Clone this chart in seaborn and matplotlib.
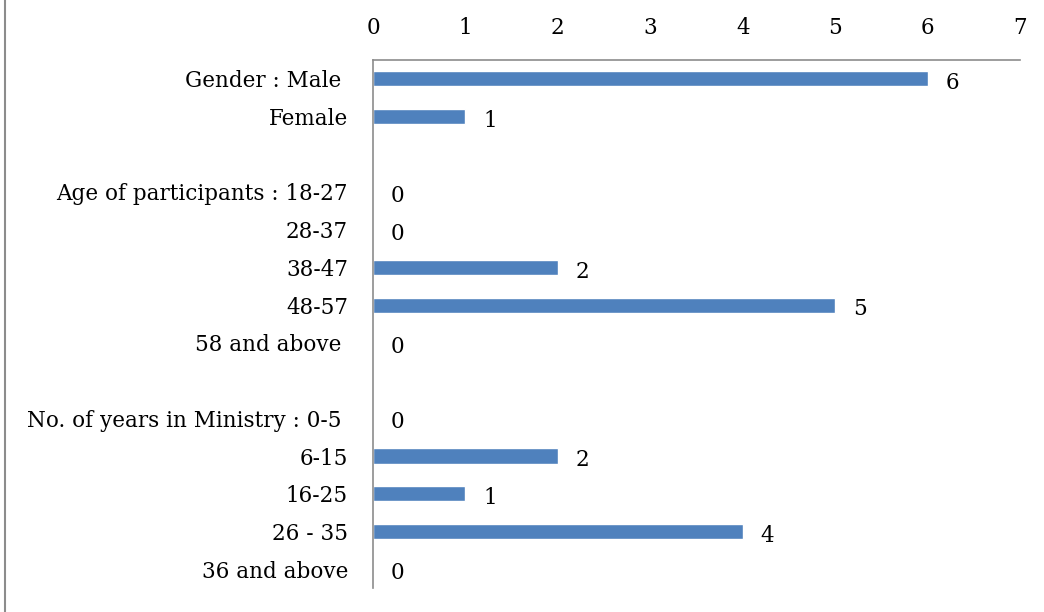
import seaborn as sns
import matplotlib.pyplot as plt
import numpy as np
import pandas as pd

# Categories (top to bottom); blank strings are spacer rows
categories = [
    "Gender : Male ", "Female", "",
    "Age of participants : 18-27", "28-37", "38-47", "48-57", "58 and above ", " ",
    "No. of years in Ministry : 0-5 ", "6-15", "16-25", "26 - 35", "36 and above",
]
counts = [6, 1, np.nan, 0, 0, 2, 5, 0, np.nan, 0, 2, 1, 4, 0]
x_ticks = [0, 1, 2, 3, 4, 5, 6, 7]

df = pd.DataFrame({"Category": categories, "Count": counts})

sns.set_style("white")
plt.rcParams["font.family"] = ["DejaVu Serif"]
plt.rcParams["text.color"] = "black"
plt.rcParams["xtick.color"] = "black"
plt.rcParams["ytick.color"] = "black"

fig = plt.figure(figsize=(10.44, 6.12), dpi=100)
ax = fig.add_axes([0.3573, 0.0392, 0.977 - 0.3573, 0.902 - 0.0392])

sns.barplot(data=df, x="Count", y="Category", orient="h", color="#4f81bd",
            saturation=1, width=0.4, ax=ax, order=categories)

ax.set_xlim(0, 7)
ax.set_ylim(len(categories) - 0.5, -0.5)
ax.set_xticks(x_ticks)
ax.xaxis.tick_top()
ax.tick_params(axis="x", length=0, pad=15, labelsize=15.5)
ax.tick_params(axis="y", length=0, pad=18, labelsize=15.5)
ax.set_xlabel("")
ax.set_ylabel("")

for side in ["right", "bottom"]:
    ax.spines[side].set_visible(False)
for side in ["top", "left"]:
    ax.spines[side].set_color("#8c8c8c")
    ax.spines[side].set_linewidth(1.2)

# Value labels
for i, v in enumerate(counts):
    if np.isnan(v):
        continue
    ax.annotate(f"{int(v)}", xy=(v, i), xytext=(13, -3), textcoords="offset points",
                va="center", ha="left", fontsize=15.5)

# Outer frame line on the left edge
fig.add_artist(plt.Line2D([0.0045, 0.0045], [0, 1], transform=fig.transFigure,
                          color="#8c8c8c", linewidth=1.5))

plt.savefig("out.png", dpi=100)
